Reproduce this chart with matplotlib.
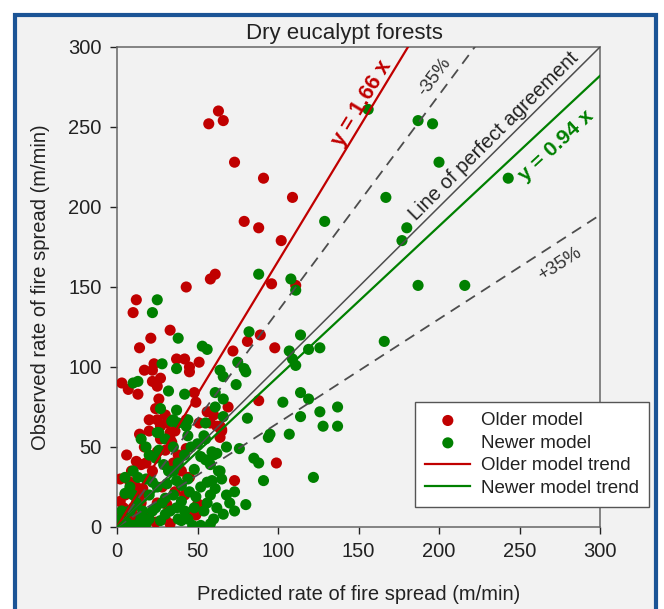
import numpy as np
import matplotlib
matplotlib.use("Agg")
import matplotlib.pyplot as plt
from matplotlib.patches import Rectangle

plt.rcParams["font.family"] = ["Liberation Sans", "DejaVu Sans"]

# older model (predicted, observed)
old_x = [63, 57, 66, 73, 91, 109, 79, 88, 102, 58, 61, 43, 96, 111, 12, 10, 33, 21, 14,
         23, 17, 22, 37, 42, 45, 51, 45, 3, 7, 13, 22, 27, 25, 48, 49, 26, 24, 30, 20, 25,
         43, 58, 58, 89, 81, 98, 72, 69, 88, 99, 73, 50, 52, 49, 45, 64, 64, 65,
         14, 17, 25, 33, 34, 43, 44, 16, 2, 4, 1, 14, 31, 47, 51, 49, 33, 22, 20, 12, 12,
         15, 5, 8, 3, 6, 10, 18, 25, 28, 35, 38, 40, 30, 27, 20, 6, 9, 2, 36, 42, 18, 30,
         24, 8, 15, 12, 31, 27, 36, 33, 51, 56, 60, 62, 65]
old_y = [260, 252, 254, 228, 218, 206, 191, 187, 179, 155, 158, 150, 152, 151, 142, 134,
         123, 118, 112, 102, 98, 98, 105, 105, 100, 103, 97, 90, 86, 83, 91, 93, 88, 84, 78,
         80, 74, 70, 67, 67, 67, 72, 65, 120, 116, 112, 110, 75, 79, 40, 29, 14, 13, 9, 31,
         63, 56, 61,
         58, 50, 47, 59, 53, 49, 31, 24, 16, 12, 7.5, 19, 14, 10, 14, 7.5, 2, 35, 30, 25, 41,
         39, 20, 28, 3, 5, 12, 8, 15, 25, 40, 45, 35, 48, 55, 60, 45, 35, 30, 22, 20, 40, 5,
         3, 2, 15, 6, 65, 63, 60, 55, 65, 72, 70, 63, 60]

# newer model (predicted, observed)
new_x = [156, 187, 196, 200, 243, 167, 180, 177, 187, 216, 129, 88, 108, 111,
         25, 22, 38, 53, 56, 28, 37, 10, 13, 32, 42, 27, 37, 35, 82, 114, 107, 109, 111,
         119, 126, 75, 79, 80, 64, 66, 61, 66, 74, 61, 66, 81, 103, 114, 119, 114, 126,
         137, 128, 137, 95, 94, 107, 68, 76, 85, 88, 122, 91, 73, 80, 73, 63, 59, 61, 166,
         34, 38, 44, 43, 55, 26, 54, 44,
         25, 20, 24, 5, 10, 13, 8, 5, 29, 32, 31, 37, 35, 40, 45, 52, 56, 58, 49, 16, 22,
         27, 18, 14, 10, 2.5, 4.5, 37, 42, 38, 47, 52, 58, 52, 59, 62, 55, 60,
         12, 20, 25, 28, 30, 33, 44, 48, 54, 56, 60, 62, 8, 6, 15, 20, 24, 30, 40, 44, 48,
         38, 42, 46, 50, 55, 35, 30, 18, 15, 26, 22, 18, 10, 3, 1, 35, 40, 65, 68, 70, 66,
         58, 64]
new_y = [261, 254, 252, 228, 218, 206, 187, 179, 151, 151, 191, 158, 155, 148,
         142, 134, 118, 113, 111, 102, 99, 90, 91, 85, 83, 74, 73, 67, 122, 120, 110, 105,
         101, 111, 112, 103, 99, 97, 98, 94, 84, 80, 89, 75, 69, 68, 78, 84, 80, 69, 72,
         75, 63, 63, 58, 56, 58, 50, 49, 43, 40, 31, 29, 22, 14, 10, 35, 29, 24, 116,
         66, 65, 67, 63, 65, 59, 57, 57,
         59, 45, 43, 31, 35, 31, 25, 21, 39, 35, 27, 29, 20, 16, 22, 25, 28, 20, 19, 10,
         10, 4, 2, 3, 1, 5, 1, 12, 10, 5, 1, 1, 39, 44, 47, 46, 42, 45,
         15, 20, 25, 15, 8, 10, 5, 12, 10, 15, 5, 12, 10, 3, 6, 5, 12, 18, 26, 30, 36, 40,
         45, 50, 52, 55, 50, 55, 50, 55, 48, 28, 30, 20, 10, 2, 35, 4, 30, 20, 15, 8, 2, 35]

old_slope = 1.66
new_slope = 0.94

RED = "#c00000"
GREEN = "#008000"
GREY = "#4d4d4d"

fig = plt.figure(figsize=(6.64, 6.09), dpi=100)
fig.patch.set_facecolor("white")
frame = Rectangle((15 / 664, -0.02), 641 / 664, 1.02 - 15 / 609,
                  transform=fig.transFigure, facecolor="#f2f2f2",
                  edgecolor="#1b5496", lw=3, zorder=-10)
fig.patches.append(frame)

ax = fig.add_axes([117 / 664, 82 / 609, 483 / 664, 480 / 609])
ax.set_facecolor("#f2f2f2")

ax.scatter(old_x, old_y, s=64, color=RED, edgecolors="none", zorder=3, label="Older model")
ax.scatter(new_x, new_y, s=64, color=GREEN, edgecolors="none", zorder=3, label="Newer model")

xs = np.array([0, 300])
ax.plot(xs, xs, color=GREY, lw=1.1, zorder=4)
ax.plot(xs, 1.35 * xs, color=GREY, lw=1.3, ls=(0, (6, 4)), zorder=4)
ax.plot(xs, 0.65 * xs, color=GREY, lw=1.3, ls=(0, (6, 4)), zorder=4)
ax.plot(xs, old_slope * xs, color=RED, lw=1.6, zorder=5, label="Older model trend")
ax.plot(xs, new_slope * xs, color=GREEN, lw=1.6, zorder=5, label="Newer model trend")

ax.set_xlim(0, 300)
ax.set_ylim(0, 300)
ax.set_xticks(range(0, 301, 50))
ax.set_yticks(range(0, 301, 50))
ax.tick_params(labelsize=14.5, colors="#222222", length=5, width=1, pad=6)
for sp in ax.spines.values():
    sp.set_color("#666666")
    sp.set_linewidth(1.1)

ax.set_xlabel("Predicted rate of fire spread (m/min)", fontsize=14.5, color="#222222", labelpad=17)
ax.set_ylabel("Observed rate of fire spread (m/min)", fontsize=14.5, color="#222222", labelpad=13)
ax.set_title("Dry eucalypt forests", fontsize=16, color="#222222", pad=6, x=0.47)

# annotations rotated along their lines (pixel slope)
def ang(k):
    return np.degrees(np.arctan(k * 1.6 / 1.61))

ax.text(152, 265, "y = 1.66 x", color=RED, fontsize=15.5, fontweight="bold",
        rotation=ang(old_slope), ha="center", va="center", zorder=6)
ax.text(197, 281, "-35%", color="#333333", fontsize=13.3,
        rotation=ang(1.35), ha="center", va="center", zorder=6)
ax.text(234, 244, "Line of perfect agreement", color="#222222", fontsize=14.5,
        rotation=ang(1.0), ha="center", va="center", zorder=6)
ax.text(273, 238, "y = 0.94 x", color=GREEN, fontsize=15.2, fontweight="bold",
        rotation=ang(new_slope), ha="center", va="center", zorder=6)
ax.text(275, 164, "+35%", color="#333333", fontsize=13.4,
        rotation=ang(0.65), ha="center", va="center", zorder=6)

leg = ax.legend(loc="lower left", bbox_to_anchor=(0.617, 0.042), borderaxespad=0,
                fontsize=13.5, frameon=True, fancybox=False, framealpha=1,
                edgecolor="#555555", handlelength=2.4, borderpad=0.55,
                labelspacing=0.28, handletextpad=0.55)
leg.get_frame().set_linewidth(1.0)
for t in leg.get_texts():
    t.set_color("#222222")

fig.savefig("out.png", dpi=100)
